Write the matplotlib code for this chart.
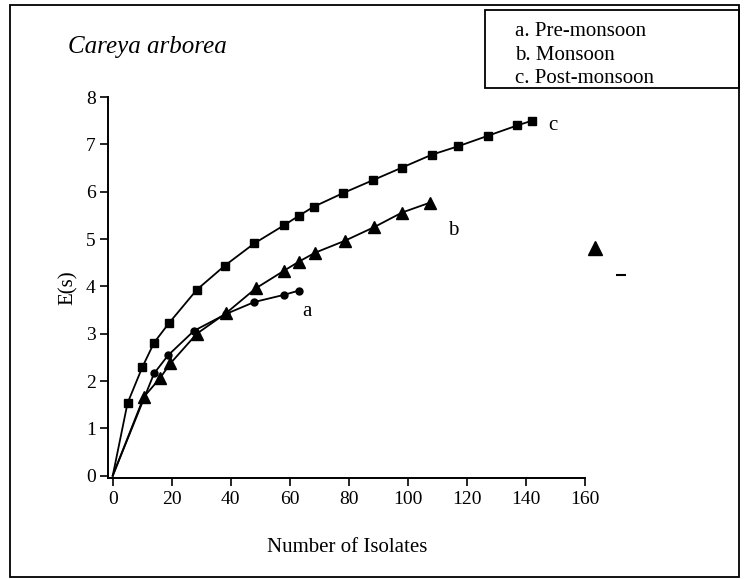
"""
Careya arborea: expected number of species E(s) against number of isolates
for the three seasons (rarefaction curves).
"""

import matplotlib
matplotlib.use('Agg')
import matplotlib.pyplot as plt
from matplotlib.patches import Rectangle

plt.rcParams.update({
    'font.family': ['Liberation Serif', 'DejaVu Serif'],
    'font.size': 13,
    'axes.linewidth': 1.4,
})

# a. Pre-monsoon (circles)
pre_x = [0, 14, 18.7, 27.5, 38.5, 48, 58, 63]
pre_y = [0, 2.16, 2.54, 3.06, 3.42, 3.67, 3.82, 3.91]

# b. Monsoon (triangles)
mon_x = [0, 10.5, 16, 19.5, 28.5, 38.5, 48.5, 58, 63, 68.5, 78.5, 88.5, 98, 107.5]
mon_y = [0, 1.66, 2.06, 2.37, 3.00, 3.44, 3.96, 4.33, 4.52, 4.71, 4.96, 5.25, 5.56, 5.77]

# c. Post-monsoon (squares)
post_x = [0, 5, 10, 14, 19, 28.5, 38, 48, 58, 63, 68, 78, 88, 98, 108, 117, 127, 137, 142]
post_y = [0, 1.53, 2.29, 2.81, 3.22, 3.93, 4.44, 4.91, 5.29, 5.49, 5.68, 5.97,
          6.24, 6.51, 6.78, 6.96, 7.18, 7.40, 7.50]

# stray marks left on the scanned page
stray_tri_x, stray_tri_y = [163.5], [4.80]
stray_dash_x, stray_dash_y = [172.3], [4.24]

legend_lines = ['a. Pre-monsoon', 'b. Monsoon', 'c. Post-monsoon']


def main():
    fig = plt.figure(figsize=(7.45, 5.79), dpi=100)
    ax = fig.add_axes([0.1454, 0.1744, 0.640, 0.658])

    # (x, y, marker, size, curve label, label offset from last point)
    series = [
        (pre_x, pre_y, 'o', 5, 'a', (2.7, -0.44)),
        (mon_x, mon_y, '^', 8.5, 'b', (7.7, -0.6)),
        (post_x, post_y, 's', 5.8, 'c', (7.1, -0.1)),
    ]
    for xs, ys, mk, ms, lab, (dx, dy) in series:
        ax.plot(xs, ys, color='black', lw=1.3, marker=mk, ms=ms,
                markevery=list(range(1, len(xs))), clip_on=False, zorder=3)
        ax.text(xs[-1] + dx, ys[-1] + dy, lab, fontsize=15, ha='center', va='center')

    ax.plot(stray_tri_x, stray_tri_y, '^', color='black', ms=10, clip_on=False)
    ax.plot(stray_dash_x, stray_dash_y, '_', color='black', ms=7, mew=1.5, clip_on=False)

    ax.set_xlim(-1.5, 160)
    ax.set_ylim(-0.05, 8)
    ax.set_xticks(range(0, 161, 20))
    ax.set_yticks(range(0, 9))
    ax.spines['top'].set_visible(False)
    ax.spines['right'].set_visible(False)
    ax.tick_params(direction='out', length=6, width=1.2, labelsize=14, pad=3)

    ax.set_xlabel('Number of Isolates', fontsize=15, labelpad=22)
    ax.set_ylabel('E(s)', fontsize=15, labelpad=6)

    fig.text(0.091, 0.918, 'Careya arborea', fontsize=18, style='italic',
             ha='left', va='center')

    # outer frame and legend box
    fig.add_artist(Rectangle((0.014, 0.004), 0.978, 0.988, transform=fig.transFigure,
                             fill=False, lw=1.3, ec='black'))
    fig.add_artist(Rectangle((0.651, 0.848), 0.341, 0.135, transform=fig.transFigure,
                             fill=False, lw=1.3, ec='black'))
    for i, line in enumerate(legend_lines):
        fig.text(0.691, 0.945 - i * 0.040, line, fontsize=15, ha='left', va='center')

    fig.savefig('out.png', dpi=100)
    plt.close(fig)


if __name__ == "__main__":
    main()
